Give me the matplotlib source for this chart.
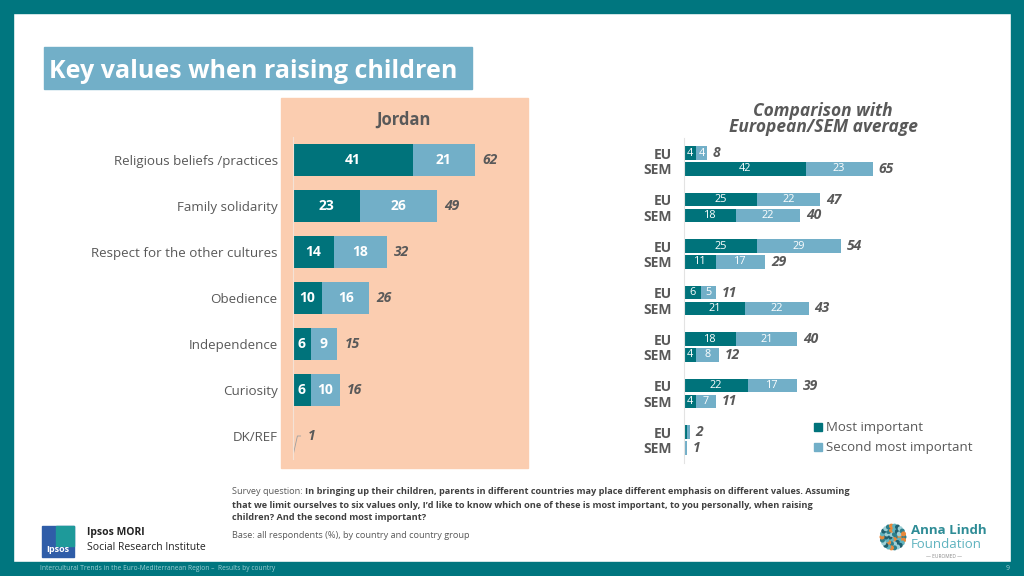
import numpy as np
import matplotlib.pyplot as plt
from matplotlib.patches import Rectangle, Circle

plt.rcParams['font.family'] = ['Open Sans', 'DejaVu Sans']

# Data
values = ['Religious beliefs /practices', 'Family solidarity', 'Respect for the other cultures',
          'Obedience', 'Independence', 'Curiosity', 'DK/REF']
jo_most = [41, 23, 14, 10, 6, 6, 0]
jo_second = [21, 26, 18, 16, 9, 10, 0]
jo_total = [62, 49, 32, 26, 15, 16, 1]

eu_most = [4, 25, 25, 6, 18, 22, 1]
eu_second = [4, 22, 29, 5, 21, 17, 1]
eu_total = [8, 47, 54, 11, 40, 39, 2]
sem_most = [42, 18, 11, 21, 4, 4, 0]
sem_second = [23, 22, 17, 22, 8, 7, 1]
sem_total = [65, 40, 29, 43, 12, 11, 1]

DARK = '#00737B'
LIGHT = '#72AFC8'
FRAME = '#00767F'
PEACH = '#FBCDB0'
GREY = '#595959'

W, H = 1024, 576
fig = plt.figure(figsize=(10.24, 5.76), dpi=100)


def box(x0, y0, x1, y1):
    # pixel box (top-left origin) -> figure fraction
    return [x0 / W, 1 - y1 / H, (x1 - x0) / W, (y1 - y0) / H]


# background decoration layer
bg = fig.add_axes([0, 0, 1, 1])
bg.set_xlim(0, W)
bg.set_ylim(H, 0)
bg.axis('off')
bg.add_patch(Rectangle((0, 0), W, 13, color=FRAME))
bg.add_patch(Rectangle((0, 0), 13, H, color=FRAME))
bg.add_patch(Rectangle((1011, 0), 13, H, color=FRAME))
bg.add_patch(Rectangle((0, 562), W, 14, color=FRAME))
bg.add_patch(Rectangle((44, 47), 428, 42, color=LIGHT))
bg.text(49, 72, 'Key values when raising children', color='white', fontsize=18,
        fontweight='bold', va='center', ha='left')
bg.add_patch(Rectangle((281, 98), 247, 370, color=PEACH))
bg.text(403, 120, 'Jordan', color=GREY, fontsize=12, fontweight='bold', ha='center', va='center')
bg.text(823, 119, 'Comparison with\nEuropean/SEM average', color=GREY, fontsize=12.5,
        fontweight='bold', style='italic', ha='center', va='center', linespacing=0.85)

# footer text
bg.text(232, 492, 'Survey question: ', fontsize=6.6, color=GREY, va='center')
bg.text(305, 492, 'In bringing up their children, parents in different countries may place different '
        'emphasis on different values. Assuming', fontsize=6.6, color='#404040',
        fontweight='bold', va='center')
bg.text(232, 505, 'that we limit ourselves to six values only, I\u2019d like to know which one of these is '
        'most important, to you personally, when raising', fontsize=6.6, color='#404040',
        fontweight='bold', va='center')
bg.text(232, 518, 'children? And the second most important?', fontsize=6.6, color='#404040',
        fontweight='bold', va='center')
bg.text(232, 536, 'Base: all respondents (%), by country and country group', fontsize=6.6,
        color=GREY, va='center')

# Ipsos logo
bg.add_patch(Rectangle((42, 526), 32, 31, color='#2F5DA8'))
bg.add_patch(Rectangle((56, 526), 18, 20, color='#1E9A9A'))
bg.text(58, 549, 'Ipsos', color='white', fontsize=6.5, fontweight='bold', ha='center', va='center')
bg.text(87, 533, 'Ipsos MORI', fontsize=7.5, fontweight='bold', color='#222222', va='center')
bg.text(87, 548, 'Social Research Institute', fontsize=7.5, color='#222222', va='center')

# Anna Lindh logo (dots)
dot_cols = ['#2E7F8A', '#E8883A', '#5FB3BF', '#1F5F6E', '#9CCFD6']
k = 0
for r in [3, 7, 11]:
    n = int(r * 2)
    for a in np.linspace(0, 2 * np.pi, n, endpoint=False):
        bg.add_patch(Circle((893 + r * np.cos(a), 537 + r * np.sin(a)), 1.8,
                            color=dot_cols[k % 5]))
        k += 1
bg.text(911, 530, 'Anna Lindh', color='#2E8C96', fontsize=9.5, fontweight='bold', va='center')
bg.text(911, 545, 'Foundation', color='#5FB3BF', fontsize=9.5, va='center')
bg.text(944, 557, '\u2014 EUROMED \u2014', color='#888888', fontsize=3.5, ha='center', va='center')

bg.text(40, 569, 'Intercultural Trends in the Euro-Mediterranean Region \u2013  Results by country',
        color='#9FD0D5', fontsize=4.8, va='center')
bg.text(1010, 569, '9', color='#9FD0D5', fontsize=5, va='center', ha='right')

# Jordan panel
y = np.arange(len(values))
ax1 = fig.add_axes(box(293, 137, 528, 459))
ax1.patch.set_alpha(0)
ax1.barh(y, jo_most, height=0.7, color=DARK)
ax1.barh(y, jo_second, left=jo_most, height=0.7, color=LIGHT)
ax1.set_xlim(0, 235 / 2.93)
ax1.set_ylim(len(values) - 0.5, -0.5)
for s in ['top', 'right', 'bottom']:
    ax1.spines[s].set_visible(False)
ax1.spines['left'].set_color('#F4E2D6')
ax1.set_xticks([])
ax1.set_yticks(y)
ax1.set_yticklabels(values, fontsize=9.6, color=GREY)
ax1.tick_params(axis='y', length=0, pad=11)
for i in range(len(values)):
    m, s2, t = jo_most[i], jo_second[i], jo_total[i]
    if m > 0:
        ax1.text(m / 2, i, str(m), color='white', fontsize=10, fontweight='bold',
                 ha='center', va='center')
    if s2 > 0:
        ax1.text(m + s2 / 2, i, str(s2), color='white', fontsize=10, fontweight='bold',
                 ha='center', va='center')
    if m + s2 > 0:
        ax1.text(m + s2 + 2.5, i, str(t), color=GREY, fontsize=10, fontweight='bold',
                 style='italic', ha='left', va='center')
    else:
        # leader line for tiny value
        ax1.plot([0.1, 1.5, 2.6], [i + 0.4, i, i], color='#A0A0A0', lw=0.6)
        ax1.text(5, i, str(t), color=GREY, fontsize=10, fontweight='bold',
                 style='italic', ha='left', va='center')

# Comparison panel
ax2 = fig.add_axes(box(684, 137.75, 1000, 463.25))
ax2.patch.set_alpha(0)
off = 0.172
bh = 0.29
ax2.barh(y - off, eu_most, height=bh, color=DARK)
ax2.barh(y - off, eu_second, left=eu_most, height=bh, color=LIGHT)
ax2.barh(y + off, sem_most, height=bh, color=DARK)
ax2.barh(y + off, sem_second, left=sem_most, height=bh, color=LIGHT)
ax2.set_xlim(0, 316 / 2.9)
ax2.set_ylim(len(values) - 0.5, -0.5)
for s in ['top', 'right', 'bottom']:
    ax2.spines[s].set_visible(False)
ax2.spines['left'].set_color('#E3E3E3')
ax2.set_xticks([])
ax2.set_yticks(np.concatenate([y - off, y + off]))
ax2.set_yticklabels(['EU'] * len(y) + ['SEM'] * len(y), fontsize=10, fontweight='bold',
                    color=GREY)
ax2.tick_params(axis='y', length=0, pad=9)
for yy, most, sec, tot in [(y - off, eu_most, eu_second, eu_total),
                           (y + off, sem_most, sem_second, sem_total)]:
    for i in range(len(values)):
        m, s2 = most[i], sec[i]
        if m >= 3:
            ax2.text(m / 2, yy[i], str(m), color='white', fontsize=7.8, ha='center', va='center')
        if s2 >= 3:
            ax2.text(m + s2 / 2, yy[i], str(s2), color='white', fontsize=7.8,
                     ha='center', va='center')
        ax2.text(m + s2 + 2, yy[i], str(tot[i]), color=GREY, fontsize=10, fontweight='bold',
                 style='italic', ha='left', va='center')

# legend
bg.add_patch(Rectangle((814, 423), 8, 8, color=DARK))
bg.add_patch(Rectangle((814, 443), 8, 8, color=LIGHT))
bg.text(826, 427, 'Most important', fontsize=9.5, color=GREY, va='center')
bg.text(826, 447, 'Second most important', fontsize=9.5, color=GREY, va='center')

fig.savefig('out.png', dpi=100)
